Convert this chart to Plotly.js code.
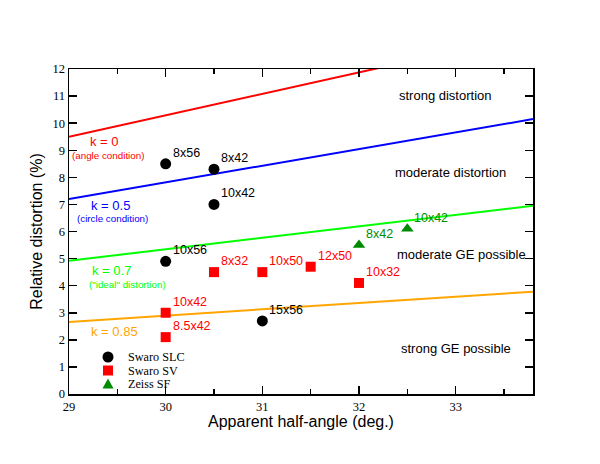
<!DOCTYPE html>
<html>
<head>
<meta charset="utf-8">
<script src="https://cdn.plot.ly/plotly-3.0.1.min.js"></script>
<style>html,body{margin:0;padding:0;background:#fff;}#chart{width:600px;height:464px;}</style>
</head>
<body>
<div id="chart"></div>
<script>
// ---- data ----
const lineX = [29, 33.8];
const k0 = [9.5, 13.3];
const k05 = [7.2, 10.15];
const k07 = [4.92, 6.95];
const k085 = [2.66, 3.78];

const slcX = [30, 30.5, 30.5, 30, 31];
const slcY = [8.5, 8.3, 7.0, 4.9, 2.7];
const slcLabels = ["8x56", "8x42", "10x42", "10x56", "15x56"];

const svX = [30, 30, 30.5, 31, 31.5, 32];
const svY = [3.0, 2.1, 4.5, 4.5, 4.7, 4.1];
const svLabels = ["10x42", "8.5x42", "8x32", "10x50", "12x50", "10x32"];

const sfX = [32, 32.5];
const sfY = [5.5, 6.1];
const sfLabels = ["8x42", "10x42"];

const seriesNames = ["Swaro SLC", "Swaro SV", "Zeiss SF"];

// ---- layout helpers ----
const L = 69, T = 69, W = 464, H = 325;
function px(x) { return (x - L) / W; }
function py(y) { return (T + H - y) / H; }

const sans = "Liberation Sans, Arial, sans-serif";
const serif = "Liberation Serif, Times New Roman, serif";
const RED = "#ff0000", BLUE = "#0000ff", LIME = "#00ff00", ORANGE = "#ffa500", DKGREEN = "#008b00";
const seriesColors = ["#000000", RED, DKGREEN];

const traces = [
  {x: lineX, y: k0, mode: "lines", line: {color: RED, width: 2}, showlegend: false, hoverinfo: "skip"},
  {x: lineX, y: k05, mode: "lines", line: {color: BLUE, width: 2}, showlegend: false, hoverinfo: "skip"},
  {x: lineX, y: k07, mode: "lines", line: {color: LIME, width: 2}, showlegend: false, hoverinfo: "skip"},
  {x: lineX, y: k085, mode: "lines", line: {color: ORANGE, width: 2}, showlegend: false, hoverinfo: "skip"},
  {x: slcX, y: slcY, mode: "markers", name: seriesNames[0], marker: {symbol: "circle", size: 11, color: seriesColors[0]}},
  {x: svX, y: svY, mode: "markers", name: seriesNames[1], marker: {symbol: "square", size: 10, color: seriesColors[1]}},
  {x: sfX, y: sfY, mode: "markers", name: seriesNames[2], marker: {symbol: "triangle-up", size: 11, color: seriesColors[2]}}
];

const annotations = [];
function pointLabels(xs, ys, labels, color) {
  for (let i = 0; i < xs.length; i++) {
    annotations.push({x: xs[i], y: ys[i], xref: "x", yref: "y", text: labels[i], showarrow: false,
      xanchor: "left", yanchor: "middle", xshift: 5, yshift: 11,
      font: {family: sans, size: 12.5, color: color}});
  }
}
pointLabels(slcX, slcY, slcLabels, "#000");
pointLabels(svX, svY, svLabels, RED);
pointLabels(sfX, sfY, sfLabels, DKGREEN);

function txt(text, x, y, size, color, anchor, family, align) {
  annotations.push({xref: "paper", yref: "paper", x: px(x), y: py(y), text: text, showarrow: false,
    xanchor: anchor || "center", yanchor: "middle", align: align || "center",
    font: {family: family || sans, size: size, color: color}});
}
txt("strong distortion", 445, 96, 13, "#000");
txt("moderate distortion", 450, 172.3, 13, "#000");
txt("moderate GE possible", 461.5, 254.3, 13, "#000");
txt("strong GE possible", 456, 348.3, 13, "#000");
txt("k = 0", 104, 141.7, 13, RED);
txt("(angle condition)", 108.3, 155.7, 9.8, RED);
txt("k = 0.5", 110.3, 205.7, 13, BLUE);
txt("(circle condition)", 112.5, 218.3, 9.8, BLUE);
txt("k = 0.7", 111, 270, 13, LIME);
txt("(\"ideal\" distortion)", 127.5, 284.3, 9.8, LIME);
txt("k = 0.85", 114.7, 331.7, 13, ORANGE);

// compact legend: keys as shapes, names as text (row pitch 13.5px)
const legendRows = [357, 370.5, 384];
const keyX = 108;
const shapes = [];
for (let i = 0; i < seriesNames.length; i++) {
  txt(seriesNames[i], 125.5, legendRows[i], 12.2, "#000", "left", serif, "left");
}
shapes.push({type: "circle", xref: "paper", yref: "paper",
  x0: px(keyX - 5.5), x1: px(keyX + 5.5), y0: py(legendRows[0] + 5.5), y1: py(legendRows[0] - 5.5),
  fillcolor: seriesColors[0], line: {width: 0}});
shapes.push({type: "rect", xref: "paper", yref: "paper",
  x0: px(keyX - 5), x1: px(keyX + 5), y0: py(legendRows[1] + 5), y1: py(legendRows[1] - 5),
  fillcolor: seriesColors[1], line: {width: 0}});
const ty = legendRows[2];
shapes.push({type: "path", xref: "paper", yref: "paper",
  path: "M " + px(keyX - 5.5) + " " + py(ty + 4.5) + " L " + px(keyX + 5.5) + " " + py(ty + 4.5) +
        " L " + px(keyX) + " " + py(ty - 5.5) + " Z",
  fillcolor: seriesColors[2], line: {width: 0}});

const layout = {
  width: 600, height: 464,
  margin: {l: L, r: 600 - L - W, t: T, b: 464 - T - H, pad: 0},
  paper_bgcolor: "#fff", plot_bgcolor: "#fff",
  showlegend: false,
  xaxis: {
    range: [29, 33.8], dtick: 1, tick0: 29, ticks: "inside", ticklen: 8, tickwidth: 1.5, tickcolor: "#000",
    minor: {dtick: 0.5, ticks: "inside", ticklen: 5, tickwidth: 1.5, tickcolor: "#000"},
    showline: true, linecolor: "#000", linewidth: 1.5, mirror: "ticks", showgrid: false, zeroline: false,
    tickfont: {family: serif, size: 12.5, color: "#000"},
    title: {text: "Apparent half-angle (deg.)", font: {family: sans, size: 16, color: "#000"}, standoff: 3}
  },
  yaxis: {
    range: [0, 12], dtick: 1, tick0: 0, ticks: "inside", ticklen: 8, tickwidth: 1.5, tickcolor: "#000",
    showline: true, linecolor: "#000", linewidth: 1.5, mirror: "ticks", showgrid: false, zeroline: false,
    tickfont: {family: serif, size: 12.5, color: "#000"},
    title: {text: "Relative distortion (%)", font: {family: sans, size: 16, color: "#000"}, standoff: 6}
  },
  shapes: shapes,
  annotations: annotations
};

Plotly.newPlot("chart", traces, layout, {displayModeBar: false, staticPlot: true});
</script>
</body>
</html>
